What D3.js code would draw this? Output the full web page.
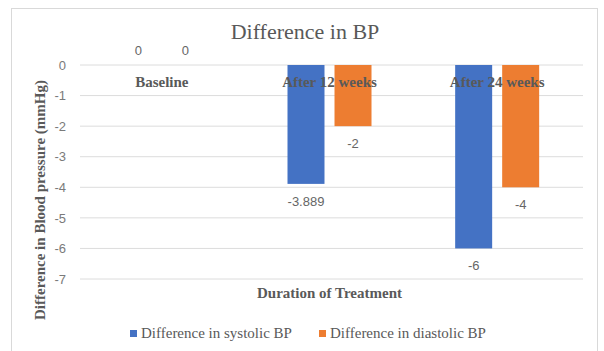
<!DOCTYPE html>
<html>
<head>
<meta charset="utf-8">
<script src="https://cdn.jsdelivr.net/npm/d3@7"></script>
<style>
  html, body { margin: 0; padding: 0; background: #fff; }
  svg { display: block; }
</style>
</head>
<body>
<svg id="chart" width="604" height="351"></svg>
<script>
// Mean change in blood pressure from baseline (mmHg)
const categories = ["Baseline", "After 12 weeks", "After 24 weeks"];
const systolic = [0, -3.889, -6];
const diastolic = [0, -2, -4];
const seriesNames = ["Difference in systolic BP", "Difference in diastolic BP"];
const seriesColors = ["#4472C4", "#ED7D31"];
const yTicks = [0, -1, -2, -3, -4, -5, -6, -7];

const seriesValues = [systolic, diastolic];
const rows = categories.map((c, i) => ({
  category: c,
  values: seriesNames.map((s, k) => ({ series: s, k, value: seriesValues[k][i] }))
}));

const svg = d3.select("#chart");
const serif = "'Liberation Serif', 'Times New Roman', serif";
const sans = "'Liberation Sans', Arial, sans-serif";
const textGray = "#595959";

// Chart frame
svg.append("rect")
  .attr("x", 11.5).attr("y", 8.5)
  .attr("width", 586).attr("height", 360)
  .attr("fill", "#fff").attr("stroke", "#d9d9d9");

const plot = { left: 78, right: 581, top: 65, bottom: 279 };

const x0 = d3.scaleBand().domain(categories).range([plot.left, plot.right]).padding(0);
const x1 = d3.scaleBand().domain(seriesNames).range([0, x0.bandwidth()])
  .paddingInner(0.213).paddingOuter(0.89);
const y = d3.scaleLinear().domain([-7, 0]).range([plot.bottom, plot.top]);

// Gridlines
svg.append("g")
  .selectAll("line").data(yTicks).join("line")
  .attr("x1", plot.left + 2).attr("x2", plot.right + 2)
  .attr("y1", d => y(d)).attr("y2", d => y(d))
  .attr("stroke", "#dcdcdc").attr("stroke-width", 1);

// Y axis tick labels
const yAxis = d3.axisLeft(y).tickValues(yTicks).tickSize(0).tickPadding(0)
  .tickFormat(d3.format("d"));
const yg = svg.append("g").attr("transform", `translate(${plot.left - 12},0)`).call(yAxis);
yg.select(".domain").remove();
yg.selectAll("text")
  .attr("font-family", sans).attr("font-size", 13).attr("fill", "#7a7a7a")
  .text(d => d === 0 ? "0" : "-" + Math.abs(d));

// Bars
const groups = svg.append("g").selectAll("g").data(rows).join("g")
  .attr("transform", d => `translate(${x0(d.category)},0)`);

groups.selectAll("rect").data(d => d.values).join("rect")
  .attr("x", d => x1(d.series))
  .attr("width", x1.bandwidth())
  .attr("y", d => y(Math.max(0, d.value)))
  .attr("height", d => Math.abs(y(d.value) - y(0)))
  .attr("fill", d => seriesColors[d.k]);

// Data labels
groups.selectAll("text.val").data(d => d.values).join("text")
  .attr("class", "val")
  .attr("x", d => x1(d.series) + x1.bandwidth() / 2)
  .attr("y", d => d.value < 0 ? y(d.value) + 22 : y(d.value) - 10)
  .attr("text-anchor", "middle")
  .attr("font-family", sans).attr("font-size", 13).attr("fill", "#666")
  .text(d => d.value === 0 ? "0" : "-" + Math.abs(d.value));

// Category labels sit next to the zero line
svg.append("g").selectAll("text").data(categories).join("text")
  .attr("x", d => x0(d) + x0.bandwidth() / 2)
  .attr("y", 87)
  .attr("text-anchor", "middle")
  .attr("font-family", serif).attr("font-weight", "bold")
  .attr("font-size", 15).attr("fill", textGray)
  .text(d => d);

// Title
svg.append("text")
  .attr("x", 305).attr("y", 39)
  .attr("text-anchor", "middle")
  .attr("font-family", serif).attr("font-size", 22).attr("fill", textGray)
  .text("Difference in BP");

// Axis titles
svg.append("text")
  .attr("x", 329.5).attr("y", 298)
  .attr("text-anchor", "middle")
  .attr("font-family", serif).attr("font-weight", "bold")
  .attr("font-size", 15).attr("fill", textGray)
  .text("Duration  of  Treatment");

svg.append("text")
  .attr("transform", "translate(45,200) rotate(-90)")
  .attr("text-anchor", "middle")
  .attr("font-family", serif).attr("font-weight", "bold")
  .attr("font-size", 15).attr("fill", textGray)
  .text("Difference in Blood pressure (mmHg)");

// Legend
const legendPos = [{ sq: 130, tx: 141 }, { sq: 319, tx: 330 }];
const legend = svg.append("g").selectAll("g").data(seriesNames).join("g");
legend.append("rect")
  .attr("x", (d, i) => legendPos[i].sq).attr("y", 330)
  .attr("width", 7).attr("height", 7)
  .attr("fill", (d, i) => seriesColors[i]);
legend.append("text")
  .attr("x", (d, i) => legendPos[i].tx).attr("y", 338)
  .attr("font-family", serif).attr("font-size", 15).attr("fill", textGray)
  .text(d => d);
</script>
</body>
</html>
